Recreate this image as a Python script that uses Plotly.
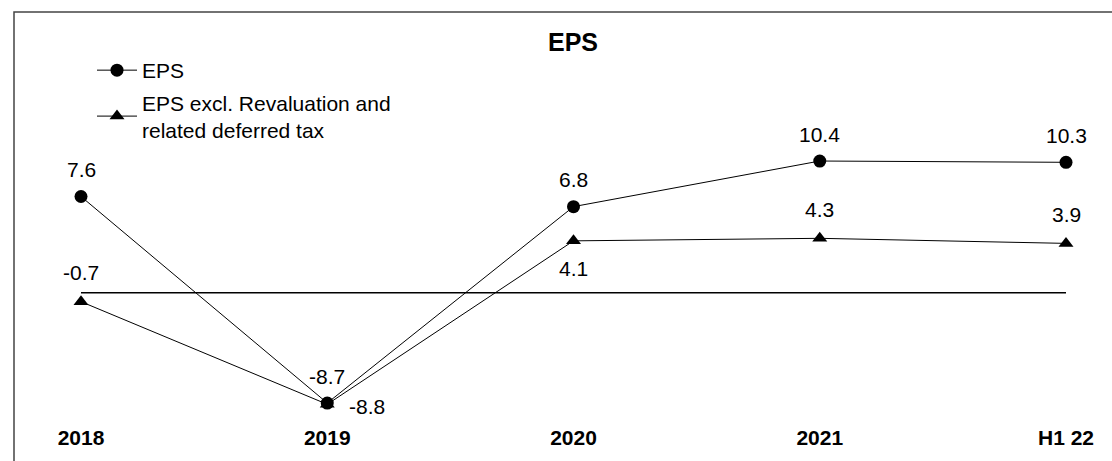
import plotly.graph_objects as go

categories = ["2018", "2019", "2020", "2021", "H1 22"]
eps = [7.6, -8.7, 6.8, 10.4, 10.3]
eps_excl = [-0.7, -8.8, 4.1, 4.3, 3.9]
zero_line = [0, 0, 0, 0, 0]

eps_label_pos = ["above", "above", "above", "above", "above"]
excl_label_pos = ["above", "right", "below", "above", "above"]

FONT = "Liberation Sans, Arial, sans-serif"
W, H = 1112, 461
MB = 38
PH = H - MB

fig = go.Figure()
fig.add_trace(go.Scatter(x=categories, y=zero_line, mode="lines",
                         line=dict(color="black", width=1.6),
                         showlegend=False, hoverinfo="skip"))
fig.add_trace(go.Scatter(x=categories, y=eps, mode="lines+markers", name="EPS",
                         line=dict(color="black", width=1),
                         marker=dict(symbol="circle", size=13, color="black"),
                         legendgroup="a"))
fig.add_trace(go.Scatter(x=categories, y=eps_excl, mode="lines+markers",
                         name="EPS excl. Revaluation and<br>related deferred tax",
                         line=dict(color="black", width=1),
                         marker=dict(symbol="triangle-up", size=13, color="black"),
                         legendgroup="b"))

def add_labels(vals, positions, up):
    for i, (v, p) in enumerate(zip(vals, positions)):
        kw = dict(x=i, y=v, xref="x", yref="y", text=f"{v:.1f}", showarrow=False,
                  font=dict(family=FONT, size=21, color="black"))
        if p == "above":
            kw["yshift"] = up
        elif p == "below":
            kw["yshift"] = -28
        else:
            kw["xshift"] = 40
            kw["yshift"] = -2
        fig.add_annotation(**kw)

add_labels(eps, eps_label_pos, 27)
add_labels(eps_excl, excl_label_pos, 29)

px_per_unit = 12.67
zero_px = 292.8
y_top = zero_px / px_per_unit
y_bot = y_top - PH / px_per_unit

x_step = 246.25
x_lo = -81 / x_step
x_hi = x_lo + W / x_step

fig.add_shape(type="rect", xref="paper", yref="paper",
              x0=14 / W, x1=1.05, y0=-0.3, y1=1 - 12 / PH,
              line=dict(color="#444444", width=1.5), fillcolor="rgba(0,0,0,0)")

fig.update_layout(
    width=W, height=H,
    margin=dict(l=0, r=0, t=0, b=MB),
    paper_bgcolor="white", plot_bgcolor="white",
    font=dict(family=FONT, color="black"),
    title=dict(text="<b>EPS</b>", x=573 / W, xanchor="center", y=1 - 42 / H,
               yanchor="middle", font=dict(size=25, family=FONT, color="black")),
    xaxis=dict(type="category", range=[x_lo, x_hi], showgrid=False, zeroline=False,
               showline=False, ticks="", tickfont=dict(size=21, family=FONT, color="black",
                                                       weight="bold")),
    yaxis=dict(range=[y_bot, y_top], visible=False),
    legend=dict(x=92 / W, y=1 - 50 / PH, xanchor="left", yanchor="top",
                font=dict(size=21, family=FONT, color="black"),
                bgcolor="rgba(0,0,0,0)", itemwidth=40, tracegroupgap=2),
    showlegend=True,
)

fig.write_html("out.html")
